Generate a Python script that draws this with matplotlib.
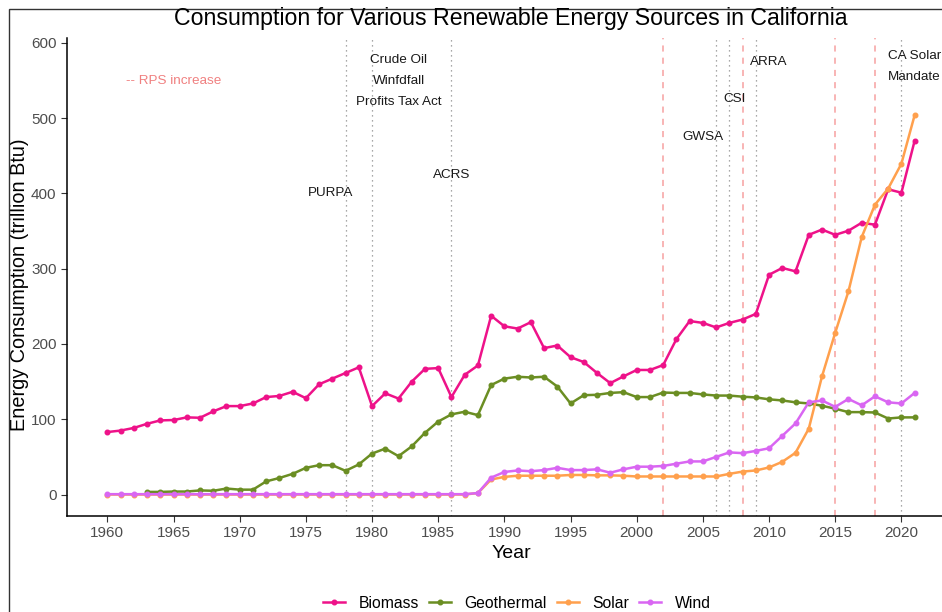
import numpy as np
import matplotlib
matplotlib.use("Agg")
import matplotlib.pyplot as plt
from matplotlib.patches import Rectangle
from matplotlib.lines import Line2D

plt.rcParams['font.family'] = ['Liberation Sans', 'DejaVu Sans']

years = list(range(1960, 2022))

biomass = [83, 85, 88.5, 94, 98.5, 99, 102.5, 102, 110.5, 117.5,
           117.5, 121, 129.5, 131, 136.5, 128, 146.5, 154, 161.5, 169,
           117.5, 134.5, 127.5, 150, 167, 168, 129.5, 159, 171.5, 237.5,
           223.5, 220.5, 229, 194.5, 198, 182.5, 176, 161.5, 148, 157,
           165.5, 165.5, 172, 206.5, 230.5, 228, 222, 228, 232.5, 240,
           292, 301, 296.5, 345, 352, 345, 350.5, 361, 358.5, 405.5,
           401, 470]
nan = float('nan')
geothermal = [nan, nan, nan, 3.5, 3.5, 4, 4, 5.5, 5, 8,
              6.5, 6.5, 17.5, 22, 27.5, 35.5, 39, 39, 31.5, 40,
              54.5, 61, 51, 64, 82, 97, 106.5, 110, 105.5, 145.5,
              154, 156.5, 155.5, 156.5, 143.5, 121, 132, 132.5, 135, 136,
              129.5, 129.5, 135.5, 135, 135, 133, 131.5, 131.5, 130, 129,
              126.5, 125, 122.5, 121, 118, 114, 109.5, 109.5, 109, 101,
              102.5, 102.5]
solar = [0] * 28 + [2, 20,
         23.5, 25, 25, 25, 25, 26, 26, 25.5, 25.5, 25,
         24, 24, 24, 24, 24, 24, 24, 27.5, 30.5, 32,
         36, 43.5, 55.5, 87.5, 157, 215, 270, 342, 385, 406.5,
         439.5, 504]
wind = [0.5] * 28 + [2, 22.5,
        30, 32, 31, 32.5, 35.5, 32.5, 32.5, 33.5, 29, 33.5,
        37, 37, 38, 41, 44, 44, 50, 56, 55, 58,
        61.5, 78, 94.5, 122.5, 125, 116.5, 127, 118.5, 130.5, 122.5,
        121, 135]

series_names = ['Biomass', 'Geothermal', 'Solar', 'Wind']
series_colors = ['#EE1289', '#6B8E23', '#FFA04D', '#D966F2']

# policy markers
dotted_years = [1978, 1980, 1986, 2006, 2007, 2009, 2020]
rps_years = [2002, 2008, 2015, 2018]

policy_labels = ['PURPA', 'Crude Oil\nWinfdfall\nProfits Tax Act', 'ACRS',
                 'GWSA', 'CSI', 'ARRA', 'CA Solar\nMandate']
label_x = [1976.9, 1982, 1986, 2005, 2007.4, 2010, 2021]
label_y = [400, 550, 425, 475, 525, 575, 569]

fig = plt.figure(figsize=(9.42, 6.12), dpi=100)
# outer border of the original picture (cropped at right and bottom)
fig.patches.append(Rectangle((9 / 942, -0.1), 1.2, 1.1 - 9 / 612, transform=fig.transFigure,
                             fill=False, edgecolor='#333333', linewidth=1.0))

ax = fig.add_axes([67 / 942, 1 - 516 / 612, (955 - 67) / 942, (516 - 38) / 612])

for yr in dotted_years:
    ax.axvline(yr, color='#8c8c8c', linestyle=(0, (1, 3)), linewidth=0.9, zorder=1)
for yr in rps_years:
    ax.axvline(yr, color='#F7A0A0', linestyle=(0, (4, 4)), linewidth=1.1, zorder=1)

data = [biomass, geothermal, solar, wind]
for vals, name, col in zip(data, series_names, series_colors):
    ax.plot(years, vals, color=col, linewidth=1.8, marker='o', markersize=3.3,
            label=name, zorder=3)

for txt, x, y in zip(policy_labels, label_x, label_y):
    ax.text(x, y, txt, ha='center', va='center', fontsize=9.7, color='#1a1a1a',
            linespacing=2.0, zorder=4)
ax.text(1965, 550, '-- RPS increase', ha='center', va='center', fontsize=9.7,
        color='#F08080')

ax.set_xlim(1956.95, 2024.05)
ax.set_ylim(-28.5, 606.5)
ax.set_xticks(range(1960, 2021, 5))
ax.set_yticks(range(0, 601, 100))
ax.tick_params(axis='both', colors='#333333', labelcolor='#4D4D4D', labelsize=11,
               length=4, width=0.8)
for s in ['top', 'right']:
    ax.spines[s].set_visible(False)
for s in ['left', 'bottom']:
    ax.spines[s].set_color('black')
    ax.spines[s].set_linewidth(1.1)

ax.set_xlabel('Year', fontsize=14, color='black', labelpad=3)
ax.set_ylabel('Energy Consumption (trillion Btu)', fontsize=14.3, color='black')
ax.yaxis.set_label_coords((29 - 67) / 888, (516 - 285) / 478)
fig.text(511 / 942, 1 - 19 / 612, 'Consumption for Various Renewable Energy Sources in California',
         ha='center', va='center', fontsize=16.7)

handles = [Line2D([0], [0], color=c, linewidth=1.8, marker='o', markersize=3.3)
           for c in series_colors]
fig.legend(handles, series_names, loc='center', bbox_to_anchor=(517 / 942, 1 - 603 / 612),
           ncol=4, frameon=False, fontsize=11.3, handlelength=1.4, columnspacing=0.65,
           handletextpad=0.85, borderpad=0.1)

fig.savefig('out.png', dpi=100)
